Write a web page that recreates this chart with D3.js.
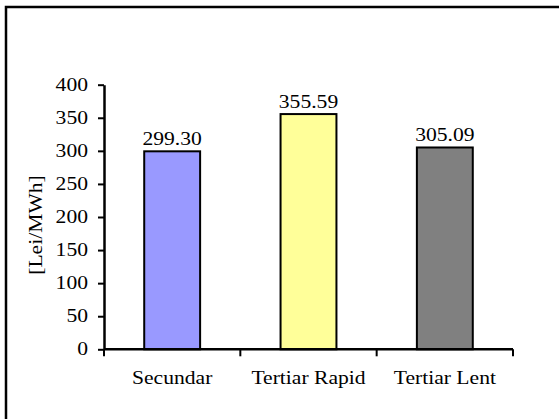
<!DOCTYPE html>
<html>
<head>
<meta charset="utf-8">
<script src="https://cdn.jsdelivr.net/npm/d3@7"></script>
<style>
  body { margin: 0; background: #fff; }
  svg { display: block; }
  text { font-family: "Liberation Serif", "Times New Roman", serif; font-size: 18px; fill: #000; }
</style>
</head>
<body>
<div id="chart"></div>
<script>
  // chart data
  var categories = ["Secundar", "Tertiar Rapid", "Tertiar Lent"];
  var values = [299.30, 355.59, 305.09];
  var barColors = ["#9999ff", "#ffff99", "#808080"];
  var yTicks = [0, 50, 100, 150, 200, 250, 300, 350, 400];
  var yLabel = "[Lei/MWh]";

  var width = 559, height = 419;
  var sx = 1.2; // the source font is rendered wide

  var svg = d3.select("#chart").append("svg")
      .attr("width", width)
      .attr("height", height);

  // outer frame (cropped on right and bottom)
  svg.append("rect")
      .attr("x", 6).attr("y", 7)
      .attr("width", width + 10).attr("height", height + 10)
      .attr("fill", "#fff")
      .attr("stroke", "#000")
      .attr("stroke-width", 2.5);

  var xScale = d3.scaleBand()
      .domain(categories)
      .range([104, 513])
      .padding(0);

  var yScale = d3.scaleLinear()
      .domain([0, 400])
      .range([349.3, 84.7]);

  // wide text helper
  function label(x, y, str, anchor, rot) {
    return svg.append("text")
      .attr("transform", "translate(" + x + "," + y + ")" + (rot ? " rotate(" + rot + ")" : "") + " scale(" + sx + ",1)")
      .attr("text-anchor", anchor)
      .text(str);
  }

  // bars
  var barW = xScale.bandwidth() * 0.41;
  svg.selectAll(".bar")
      .data(values)
      .enter().append("rect")
      .attr("class", "bar")
      .attr("x", function(d, i) { return xScale(categories[i]) + (xScale.bandwidth() - barW) / 2; })
      .attr("y", function(d) { return yScale(d); })
      .attr("width", barW)
      .attr("height", function(d) { return yScale(0) - yScale(d); })
      .attr("fill", function(d, i) { return barColors[i]; })
      .attr("stroke", "#000")
      .attr("stroke-width", 2);

  // value labels
  values.forEach(function(d, i) {
    label(xScale(categories[i]) + xScale.bandwidth() / 2, yScale(d) - 6, d.toFixed(2), "middle");
  });

  // y axis
  var yAxis = d3.axisLeft(yScale)
      .tickValues(yTicks)
      .tickSize(6)
      .tickSizeOuter(0)
      .tickFormat("");
  var yg = svg.append("g")
      .attr("transform", "translate(104,0)")
      .call(yAxis);
  yg.select(".domain").attr("stroke-width", 2.5);
  yg.selectAll(".tick line").attr("stroke-width", 2);

  yTicks.forEach(function(t) {
    label(88, yScale(t), t, "end").attr("dy", "0.33em");
  });

  // x axis
  var xr = xScale.range();
  svg.append("line")
      .attr("x1", xr[0]).attr("x2", xr[1])
      .attr("y1", yScale(0)).attr("y2", yScale(0))
      .attr("stroke", "#000").attr("stroke-width", 2.5);

  var bounds = categories.map(function(c) { return xScale(c); }).concat([xr[1]]);
  svg.selectAll(".xtick")
      .data(bounds)
      .enter().append("line")
      .attr("class", "xtick")
      .attr("x1", function(d) { return d; }).attr("x2", function(d) { return d; })
      .attr("y1", yScale(0)).attr("y2", yScale(0) + 7)
      .attr("stroke", "#000").attr("stroke-width", 2);

  categories.forEach(function(c) {
    label(xScale(c) + xScale.bandwidth() / 2, 384, c, "middle");
  });

  // y axis title
  label(36, 225, yLabel, "middle", -90).attr("dy", "0.33em");
</script>
</body>
</html>
